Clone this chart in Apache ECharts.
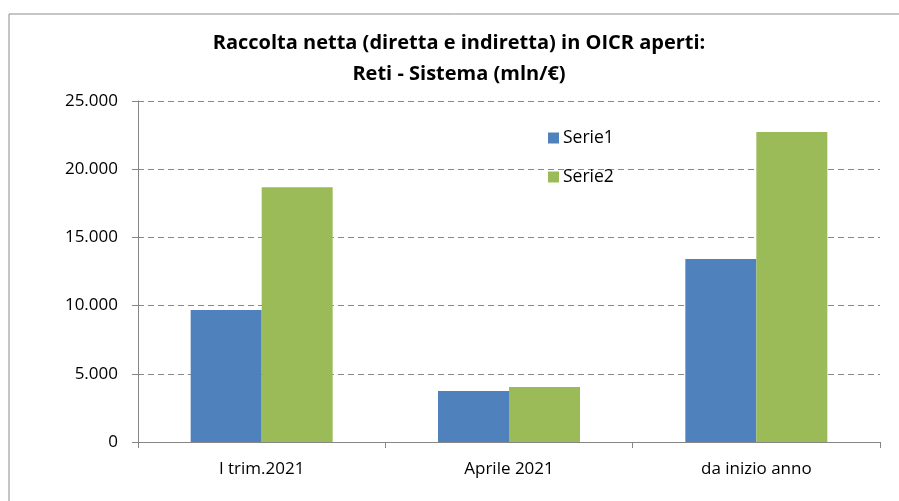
<!DOCTYPE html>
<html>
<head>
<meta charset="utf-8">
<script src="https://cdn.jsdelivr.net/npm/echarts@6/dist/echarts.min.js"></script>
<style>
  html, body { margin: 0; padding: 0; background: #fff; }
  #chart { width: 899px; height: 501px; }
</style>
</head>
<body>
<div id="chart"></div>
<script>
  // categories and series
  const categories = ['I trim.2021', 'Aprile 2021', 'da inizio anno']
  const serie1 = [9680, 3740, 13420]
  const serie2 = [18670, 4030, 22730]
  const yTicks = [0, 5000, 10000, 15000, 20000, 25000]

  const font = '"Open Sans", "Noto Sans", sans-serif'

  const chart = echarts.init(document.getElementById('chart'), null, { renderer: 'canvas' })

  chart.setOption({
    animation: false,
    textStyle: { fontFamily: font },
    title: {
      text: 'Raccolta netta (diretta e indiretta) in OICR aperti:\nReti - Sistema (mln/€)',
      left: 454,
      top: 23,
      textAlign: 'center',
      textStyle: {
        fontFamily: font,
        fontSize: 20,
        fontWeight: 'bold',
        color: '#000',
        lineHeight: 31
      }
    },
    graphic: [{
      type: 'rect',
      shape: { x: 9, y: 14, width: 1000, height: 600 },
      style: { fill: 'none', stroke: '#8c8c8c', lineWidth: 1 },
      silent: true
    }],
    legend: {
      orient: 'vertical',
      left: 543,
      top: 124,
      itemWidth: 11,
      itemHeight: 11,
      itemGap: 21,
      icon: 'rect',
      textStyle: { fontFamily: font, fontSize: 17.5, color: '#000', padding: [0, 0, 0, -1] },
      data: ['Serie1', 'Serie2']
    },
    grid: {
      left: 138,
      right: 19,
      top: 101,
      bottom: 59
    },
    xAxis: {
      type: 'category',
      data: categories,
      axisLine: { lineStyle: { color: '#868686' } },
      axisTick: { show: true, length: 6, lineStyle: { color: '#868686' } },
      axisLabel: { fontFamily: font, fontSize: 17, color: '#000', margin: 19 }
    },
    yAxis: {
      type: 'value',
      min: yTicks[0],
      max: yTicks[yTicks.length - 1],
      interval: 5000,
      axisLine: { show: true, lineStyle: { color: '#868686' } },
      axisTick: { show: true, length: 6, lineStyle: { color: '#868686' } },
      axisLabel: {
        fontFamily: font,
        fontSize: 17,
        color: '#000',
        margin: 20,
        formatter: v => v === 0 ? '0' : v.toLocaleString('it-IT').replace(/,/g, '.')
      },
      splitLine: { lineStyle: { color: '#888', type: [6, 4] } }
    },
    series: [{
      name: 'Serie1',
      type: 'bar',
      data: serie1,
      barWidth: 71,
      barGap: '0%',
      barCategoryGap: '42%',
      itemStyle: { color: '#4F81BD' }
    }, {
      name: 'Serie2',
      type: 'bar',
      data: serie2,
      barWidth: 71,
      barGap: '0%',
      itemStyle: { color: '#9BBB59' }
    }]
  })
</script>
</body>
</html>
